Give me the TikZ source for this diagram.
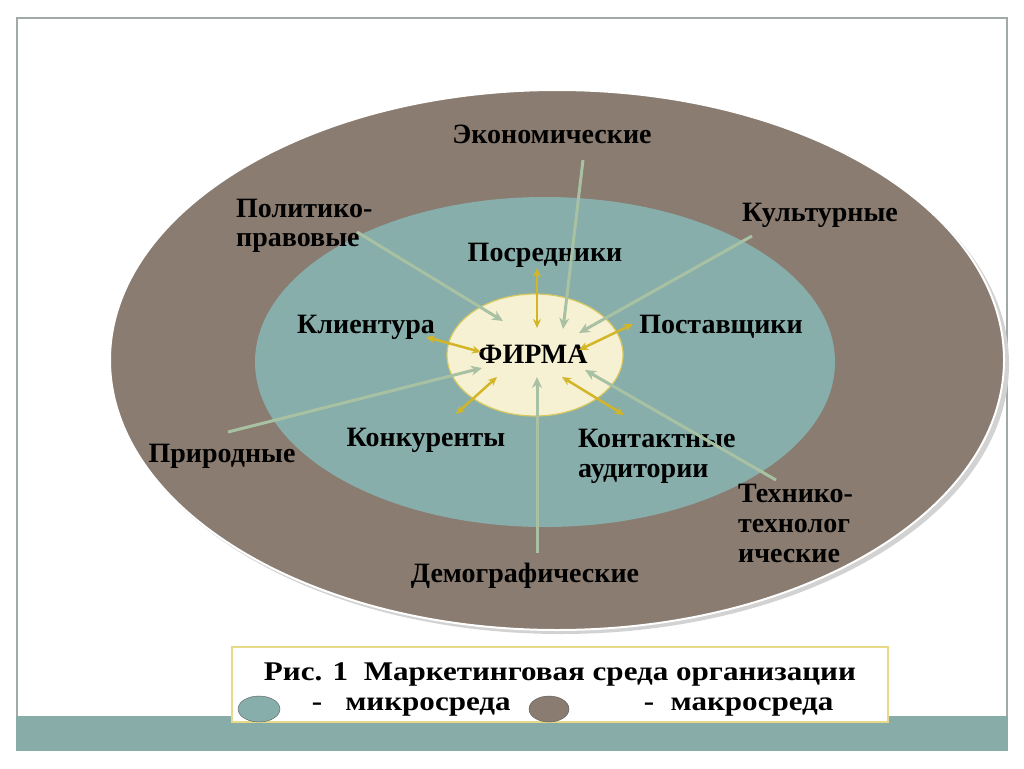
\documentclass[tikz,border=0pt]{standalone}
\usepackage{fontspec}
\usepackage{graphicx}
\setmainfont{Liberation Serif}
\usetikzlibrary{arrows.meta,shapes.geometric}
\definecolor{macro}{HTML}{8A7C70}
\definecolor{micro}{HTML}{87AEAB}
\definecolor{firmfill}{HTML}{F7F1D4}
\definecolor{firmline}{HTML}{D8C860}
\definecolor{sage}{HTML}{A8C1A3}
\definecolor{gold}{HTML}{D2B628}
\definecolor{band}{HTML}{88ADA9}
\definecolor{frame}{HTML}{A2AAA6}
\definecolor{capline}{HTML}{E6DA88}
\newcommand{\capw}[1]{\scalebox{1.15}[1]{#1}}
\tikzset{
  lbl/.style={font=\bfseries\fontsize{28}{30}\selectfont, text=black, inner sep=0pt},
  captxt/.style={font=\bfseries\fontsize{27}{30}\selectfont, text=black, inner sep=0pt},
  ext/.style={draw=sage, line width=3pt, -{Stealth[length=11pt,width=10pt]}},
  mic/.style={draw=gold, line width=2.5pt, {Stealth[length=9pt,width=8pt]}-{Stealth[length=9pt,width=8pt]}},
}
\begin{document}
\begin{tikzpicture}[x=1pt,y=-1pt]
\useasboundingbox (0,0) rectangle (1024,768);
\fill[white] (0,0) rectangle (1024,768);
% slide frame
\draw[frame, line width=2pt] (17,716) -- (17,18) -- (1007,18) -- (1007,716);
\fill[band] (16,716) rectangle (1008,751);
% macro environment
\fill[gray!35] (561,364) ellipse [x radius=448, y radius=270];
\draw[white, line width=2pt, fill=macro] (557,360) ellipse [x radius=447, y radius=270];
% micro environment
\fill[micro] (545,362) ellipse [x radius=290, y radius=165];
% firm
\node[ellipse, draw=firmline, line width=1.2pt, fill=firmfill, minimum width=176pt, minimum height=122pt, inner sep=0pt] (firm) at (535,355) {};
\node[lbl] (firmtxt) at (533,354) {ФИРМА};
% labels
\node[lbl] (econ) at (552,134) {Экономические};
\node[lbl, align=left, anchor=north west, font=\bfseries\fontsize{28}{29}\selectfont] (polit) at (236,199) {Политико-\\правовые};
\node[lbl] (cult) at (820,215) {Культурные};
\node[lbl] (posr) at (545,255) {Посредники};
\node[lbl] (klient) at (366,327) {Клиентура};
\node[lbl] (postav) at (721,327) {Поставщики};
\node[lbl] (konk) at (426,440) {Конкуренты};
\node[lbl, align=left, anchor=north west] (kontakt) at (578,429) {Контактные\\аудитории};
\node[lbl, align=left, anchor=north west] (tech) at (738,484) {Технико-\\технолог\\ические};
\node[lbl] (prir) at (222,456) {Природные};
\node[lbl] (demo) at (525,576) {Демографические};
% macro arrows
\coordinate (e1) at (583,160); \coordinate (f1) at (563,329);
\coordinate (e2) at (357,232); \coordinate (f2) at (503,321);
\coordinate (e3) at (752,236); \coordinate (f3) at (579,333);
\coordinate (e4) at (228,432); \coordinate (f4) at (482,368);
\coordinate (e5) at (776,480); \coordinate (f5) at (585,370);
\coordinate (e6) at (537,553); \coordinate (f6) at (537,377);
\foreach \i in {1,...,6} {\draw[ext] (e\i) -- (f\i);}
% micro arrows
\coordinate (m1a) at (537,268); \coordinate (m1b) at (537,328);
\coordinate (m2a) at (426,337); \coordinate (m2b) at (481,352);
\coordinate (m3a) at (633,324); \coordinate (m3b) at (579,350);
\coordinate (m4a) at (456,414); \coordinate (m4b) at (497,377);
\coordinate (m5a) at (624,415); \coordinate (m5b) at (562,377);
\foreach \i in {1,...,5} {\draw[mic] (m\i a) -- (m\i b);}
% caption
\node[draw=capline, line width=2pt, fill=white, minimum width=656pt, minimum height=75pt, inner sep=0pt] (capbox) at (560,684.5) {};
\node[captxt] (capt) at (560,674) {\capw{Рис. 1\ \ Маркетинговая среда организации}};
\node[ellipse, draw=gray!70!black, fill=micro, minimum width=42pt, minimum height=26pt, inner sep=0pt] (legmic) at (259,709) {};
\node[captxt] (d1) at (317,707) {\capw{-}};
\node[captxt] (tmic) at (428,707) {\capw{микросреда}};
\node[ellipse, draw=gray!70!black, fill=macro, minimum width=40pt, minimum height=26pt, inner sep=0pt] (legmac) at (549,709) {};
\node[captxt] (d2) at (649,707) {\capw{-}};
\node[captxt] (tmac) at (752,707) {\capw{макросреда}};
\end{tikzpicture}
\end{document}
